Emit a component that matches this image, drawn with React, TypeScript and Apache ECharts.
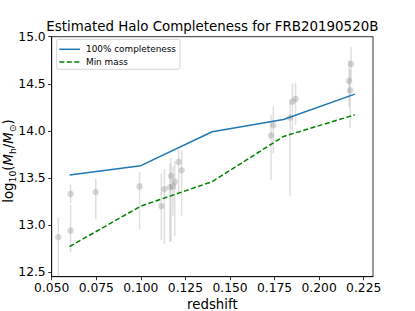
import React, { useEffect, useRef } from "react";
import * as echarts from "echarts";

// Halo candidates: redshift, log10 mass, error bar low / high
const haloZ = [0.0537, 0.0606, 0.0606, 0.0747, 0.0993, 0.1115, 0.1132, 0.1163, 0.1169, 0.118, 0.119, 0.1212, 0.1229, 0.173, 0.1743, 0.1837, 0.185, 0.1868, 0.2168, 0.2174, 0.2179];
const haloMass = [12.87, 13.33, 12.94, 13.35, 13.41, 13.2, 13.38, 13.4, 13.52, 13.41, 13.46, 13.67, 13.58, 13.95, 14.06, 14.14, 14.31, 14.34, 14.53, 14.43, 14.71];
const haloLo = [12.4, 13.23, 12.71, 13.06, 12.95, 12.84, 12.8, 12.82, 12.83, 13.1, 12.88, 13.35, 13.1, 13.48, 13.76, 13.31, 14.0, 14.06, 14.25, 14.03, 14.53];
const haloHi = [13.08, 13.43, 13.21, 13.49, 13.56, 13.55, 13.59, 13.65, 13.71, 13.62, 13.68, 13.8, 13.79, 14.17, 14.26, 14.33, 14.5, 14.51, 14.75, 14.65, 14.89];

// Completeness curves
const curveZ = [0.06, 0.1, 0.14, 0.18, 0.22];
const complete100 = [13.53, 13.63, 13.99, 14.12, 14.39];
const minMass = [12.77, 13.2, 13.46, 13.94, 14.17];

// Tick labels
const xTicks = [0.05, 0.075, 0.1, 0.125, 0.15, 0.175, 0.2, 0.225];
const yTicks = [12.5, 13.0, 13.5, 14.0, 14.5, 15.0];

const FONT = "DejaVu Sans";

export default function App() {
  const ref = useRef<HTMLDivElement>(null);
  useEffect(() => {
    if (!ref.current) return;
    const chart = echarts.init(ref.current, null, { renderer: "svg" });
    const L = 51.7, R = 373, T = 36.7, B = 276.7;
    const errData = haloZ.map((z, i) => [z, haloLo[i], haloHi[i]]);
    const ptData = haloZ.map((z, i) => [z, haloMass[i]]);
    chart.setOption({
      animation: false,
      grid: {
        left: L, top: T, width: R - L, height: B - T,
        show: true, borderColor: "#000", borderWidth: 0.8, backgroundColor: "transparent",
      },
      xAxis: {
        type: "value", min: 0.05, max: 0.2302,
        axisLine: { show: true, lineStyle: { color: "#000", width: 0.8 } },
        axisTick: { show: true, customValues: xTicks, length: 3.5, lineStyle: { color: "#000", width: 0.8 } },
        axisLabel: {
          customValues: xTicks, formatter: (v: number) => v.toFixed(3),
          color: "#000", fontFamily: FONT, fontSize: 12.3, margin: 5.5,
        },
        splitLine: { show: false },
      },
      yAxis: {
        type: "value", min: 12.45, max: 15.0,
        axisLine: { show: true, lineStyle: { color: "#000", width: 0.8 } },
        axisTick: { show: true, customValues: yTicks, length: 3.5, lineStyle: { color: "#000", width: 0.8 } },
        axisLabel: {
          customValues: yTicks, formatter: (v: number) => v.toFixed(1),
          color: "#000", fontFamily: FONT, fontSize: 12.3, margin: 6,
        },
        splitLine: { show: false },
      },
      series: [
        {
          type: "custom",
          data: errData,
          clip: true,
          encode: { x: 0, y: [1, 2] },
          renderItem: (params: any, api: any) => {
            const p1 = api.coord([api.value(0), api.value(1)]);
            const p2 = api.coord([api.value(0), api.value(2)]);
            return {
              type: "line",
              shape: { x1: p1[0], y1: p1[1], x2: p2[0], y2: p2[1] },
              style: { stroke: "rgba(128,128,128,0.25)", lineWidth: 1.5 },
            };
          },
        },
        {
          type: "scatter",
          data: ptData,
          symbol: "circle",
          symbolSize: 6.5,
          clip: true,
          itemStyle: { color: "rgba(128,128,128,0.38)" },
        },
        {
          type: "line",
          data: curveZ.map((z, i) => [z, complete100[i]]),
          showSymbol: false,
          lineStyle: { color: "#1f77b4", width: 1.5 },
        },
        {
          type: "line",
          data: curveZ.map((z, i) => [z, minMass[i]]),
          showSymbol: false,
          lineStyle: { color: "#008000", width: 1.5, type: [5, 2.5] },
        },
      ],
      graphic: [
        {
          type: "text", x: (L + R) / 2, y: 26.7,
          style: {
            text: "Estimated Halo Completeness for FRB20190520B",
            font: `13.4px ${FONT}`, fill: "#000", align: "center", verticalAlign: "middle",
          },
        },
        {
          type: "text", x: (L + R) / 2, y: 304.5,
          style: { text: "redshift", font: `13.3px ${FONT}`, fill: "#000", align: "center", verticalAlign: "middle" },
        },
        {
          type: "text", x: 8, y: 161, rotation: Math.PI / 2,
          style: {
            text: "log{s|10}({i|M}{s|h}/{i|M}{s|⊙})",
            fill: "#000", align: "center", verticalAlign: "middle",
            fontFamily: FONT, fontSize: 13.3,
            rich: {
              s: { fontFamily: FONT, fontSize: 9.3, verticalAlign: "bottom", lineHeight: 18, fill: "#000" },
              i: { fontFamily: FONT, fontSize: 13.3, fontStyle: "italic", lineHeight: 15, fill: "#000" },
            },
          },
        },
        {
          type: "rect", shape: { x: 56.7, y: 39.3, width: 123.3, height: 30, r: 2 },
          style: { fill: "rgba(255,255,255,0.8)", stroke: "#cccccc", lineWidth: 0.8 },
        },
        {
          type: "line", shape: { x1: 59.3, y1: 49.3, x2: 80, y2: 49.3 },
          style: { stroke: "#1f77b4", lineWidth: 1.5 },
        },
        {
          type: "line", shape: { x1: 59.3, y1: 62, x2: 80, y2: 62 },
          style: { stroke: "#008000", lineWidth: 1.5, lineDash: [5, 2.5] },
        },
        {
          type: "text", x: 86, y: 49.3,
          style: { text: "100% completeness", font: `8.9px ${FONT}`, fill: "#000", verticalAlign: "middle" },
        },
        {
          type: "text", x: 86, y: 62,
          style: { text: "Min mass", font: `8.9px ${FONT}`, fill: "#000", verticalAlign: "middle" },
        },
      ],
    });
    return () => chart.dispose();
  }, []);
  return <div ref={ref} style={{ width: 415, height: 311, position: "absolute", left: 0, top: 0 }} />;
}
